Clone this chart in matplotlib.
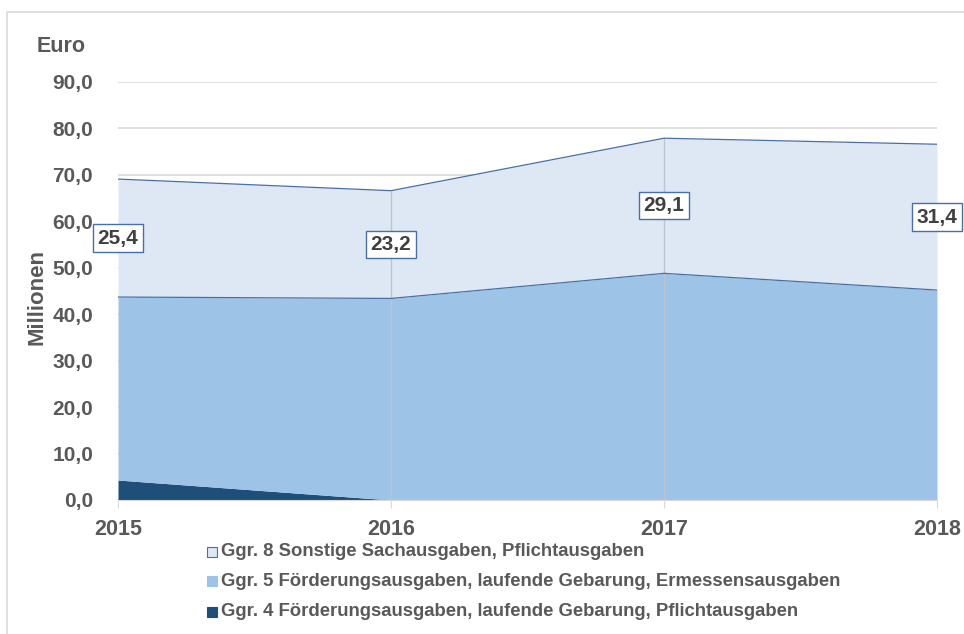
import numpy as np
import matplotlib.pyplot as plt
from matplotlib.patches import Rectangle

# data (Mio. Euro)
years = [2015, 2016, 2017, 2018]
ggr4 = [4.3, 0.0, 0.0, 0.0]
ggr5 = [39.4, 43.4, 48.8, 45.2]
ggr8 = [25.4, 23.2, 29.1, 31.4]
labels = ['Ggr. 4 Förderungsausgaben, laufende Gebarung, Pflichtausgaben',
          'Ggr. 5 Förderungsausgaben, laufende Gebarung, Ermessensausgaben',
          'Ggr. 8 Sonstige Sachausgaben, Pflichtausgaben']
yticks = np.arange(0, 91, 10)

plt.rcParams['font.family'] = ['Liberation Sans', 'DejaVu Sans']
txt = '#595959'

fig = plt.figure(figsize=(9.64, 6.34), dpi=100)
# outer frame of the chart area
fig.patches.append(Rectangle((7 / 964, -0.1), 1.1, 1 - 12 / 634 + 0.1, transform=fig.transFigure,
                             fill=False, edgecolor='#d9d9d9', linewidth=1.2))

ax = fig.add_axes([118 / 964, 134 / 634, (937 - 118) / 964, (500 - 82) / 634])

x = np.array(years)
s4 = np.array(ggr4)
s5 = s4 + np.array(ggr5)
s8 = s5 + np.array(ggr8)

edge = '#4a6fa5'
ax.fill_between(x, 0, s4, color='#1f4e79', linewidth=0, zorder=2)
ax.fill_between(x, s4, s5, color='#9dc3e6', linewidth=0, zorder=2)
ax.fill_between(x, s5, s8, color='#dde8f4', linewidth=0, zorder=2)
ax.plot(x, s5, color=edge, linewidth=0.9, zorder=3)
ax.plot(x, s8, color=edge, linewidth=0.9, zorder=3)

# drop lines at the inner years, only inside the filled area
ax.vlines(x[1:3], 0, s8[1:3], color='#c0c4ca', linewidth=1, zorder=2.5)

ax.set_xlim(2015, 2018)
ax.set_ylim(0, 90)
ax.set_yticks(yticks)
ax.set_yticklabels([f'{v:.1f}'.replace('.', ',') for v in yticks])
ax.set_xticks(years)
ax.set_xticklabels([str(y) for y in years])
ax.grid(axis='y', color='#d9d9d9', linewidth=1.2, zorder=0)
ax.set_axisbelow(True)
for sp in ['top', 'right', 'left']:
    ax.spines[sp].set_visible(False)
ax.spines['bottom'].set_color('#d9d9d9')
ax.spines['bottom'].set_zorder(5)
ax.tick_params(axis='y', length=0, pad=18, labelsize=15, labelcolor=txt)
ax.tick_params(axis='x', length=6, color='#d9d9d9', pad=8, labelsize=15.5, labelcolor=txt)
for t in ax.get_xticklabels() + ax.get_yticklabels():
    t.set_fontweight('bold')

# value labels in the middle of the Ggr. 8 band
for xv, lo, v in zip(x, s5, ggr8):
    ax.text(xv, lo + v / 2, f'{v:.1f}'.replace('.', ','), ha='center', va='center',
            fontsize=15, fontweight='bold', color='#404040', zorder=6,
            bbox=dict(boxstyle='square,pad=0.2', facecolor='white', edgecolor=edge, linewidth=1))

fig.text(37 / 964, 1 - 47 / 634, 'Euro', fontsize=15.5, fontweight='bold', color=txt, va='center')
fig.text(37 / 964, 1 - 297 / 634, 'Millionen', fontsize=16, fontweight='bold', color=txt,
         rotation=90, ha='center', va='center')

# legend (top to bottom: Ggr. 8, Ggr. 5, Ggr. 4)
leg_cols = [('#dde8f4', edge), ('#9dc3e6', '#9dc3e6'), ('#1f4e79', '#1f4e79')]
leg_y = [552, 581, 612]
for (fc, ec), lab, yy in zip(leg_cols, labels[::-1], leg_y):
    fig.patches.append(Rectangle((207 / 964, 1 - (yy + 5) / 634), 10 / 964, 10 / 634,
                                 transform=fig.transFigure, facecolor=fc, edgecolor=ec, linewidth=0.8))
    fig.text(221 / 964, 1 - yy / 634, lab, fontsize=13.3, fontweight='bold', color=txt, va='center')

fig.savefig('out.png', dpi=100)
